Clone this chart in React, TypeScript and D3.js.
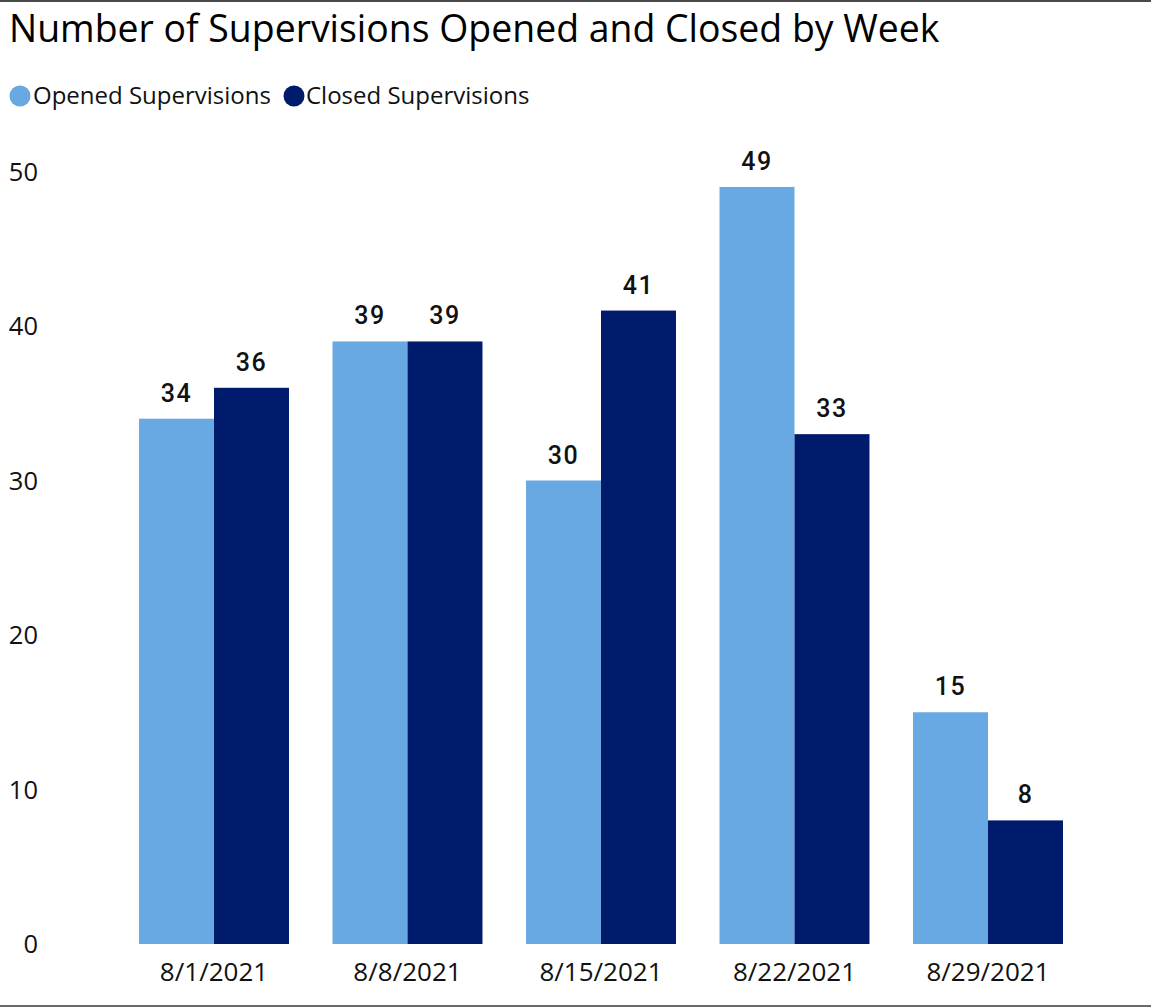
import React from 'react';
import * as d3 from 'd3';

const weeks = ['8/1/2021', '8/8/2021', '8/15/2021', '8/22/2021', '8/29/2021'];
const seriesNames = ['Opened Supervisions', 'Closed Supervisions'];
const opened = [34, 39, 30, 49, 15];
const closed = [36, 39, 41, 33, 8];
const yTicks = [0, 10, 20, 30, 40, 50];
const colors = ['#69A9E3', '#001B6C'];

const W = 1151;
const H = 1008;
const uiFont = '"Open Sans", "Noto Sans", sans-serif';
const numFont = 'Roboto, "Noto Sans", sans-serif';

function App() {
  const x0 = d3.scaleBand().domain(weeks).range([117.25, 1084.75]).paddingInner(0.225).paddingOuter(0.1125);
  const x1 = d3.scaleBand().domain(seriesNames).range([0, x0.bandwidth()]);
  const y = d3.scaleLinear().domain([0, 50]).range([944, 171.5]);
  const color = d3.scaleOrdinal<string, string>().domain(seriesNames).range(colors);

  const rows = weeks.map((w, i) => ({ week: w, values: [opened[i], closed[i]] }));

  return (
    <svg width={W} height={H} style={{ position: 'absolute', left: 0, top: 0, display: 'block' }}>
      <rect x={0} y={0} width={W} height={H} fill="#fff" />
      <rect x={0} y={0} width={W} height={2} fill="#4a4a4a" />
      <rect x={0} y={1005} width={W} height={2} fill="#6a6a6a" />

      <text x={9} y={42} fontFamily={uiFont} fontSize={37.4} fill="#000">
        Number of Supervisions Opened and Closed by Week
      </text>

      {/* legend */}
      <g fontFamily={uiFont} fontSize={24} fill="#111">
        <circle cx={20} cy={96} r={10.5} fill={colors[0]} />
        <text x={33} y={104}>{seriesNames[0]}</text>
        <circle cx={294} cy={96} r={10.5} fill={colors[1]} />
        <text x={306} y={104}>{seriesNames[1]}</text>
      </g>

      {/* y axis labels */}
      <g fontFamily={uiFont} fontSize={25.5} fill="#111" textAnchor="end">
        {yTicks.map(t => (
          <text key={t} x={38} y={y(t) + 9}>{t}</text>
        ))}
      </g>

      {/* bars */}
      {rows.map(r => (
        <g key={r.week} transform={`translate(${x0(r.week)},0)`}>
          {r.values.map((v, j) => (
            <g key={j}>
              <rect
                x={x1(seriesNames[j])}
                y={y(v)}
                width={x1.bandwidth()}
                height={y(0) - y(v)}
                fill={color(seriesNames[j])}
              />
              <text
                x={(x1(seriesNames[j]) || 0) + x1.bandwidth() / 2}
                y={y(v) - 17}
                textAnchor="middle"
                fontFamily={numFont}
                fontWeight={500}
                fontSize={25}
                letterSpacing={1.5}
                fill="#111"
              >
                {v}
              </text>
            </g>
          ))}
        </g>
      ))}

      {/* x axis labels */}
      <g fontFamily={uiFont} fontSize={26} fill="#111" textAnchor="middle">
        {weeks.map(w => (
          <text key={w} x={(x0(w) || 0) + x0.bandwidth() / 2} y={981}>{w}</text>
        ))}
      </g>
    </svg>
  );
}

export default App;
